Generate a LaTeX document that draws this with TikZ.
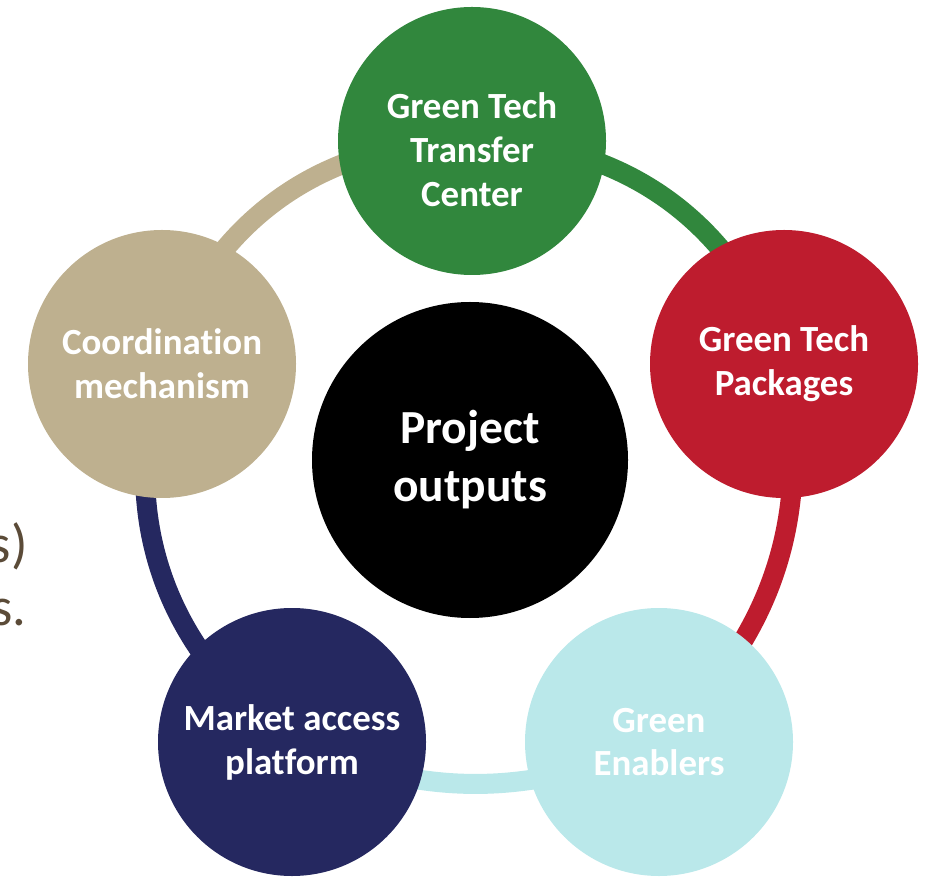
\documentclass[tikz,border=0pt]{standalone}
\usepackage{fontspec}
\setmainfont{Carlito}[Ligatures=NoCommon]
\usepackage{xcolor}
\usepackage{tikz}
\usetikzlibrary{backgrounds}

\definecolor{transfergreen}{HTML}{31873D}
\definecolor{packagered}{HTML}{BE1C2E}
\definecolor{enablerblue}{HTML}{BAE8EA}
\definecolor{marketnavy}{HTML}{252860}
\definecolor{coordbeige}{HTML}{BEB08F}
\definecolor{fragbrown}{HTML}{5B4B38}

\begin{document}
\begin{tikzpicture}[
  output/.style={circle, inner sep=0pt, minimum size=5.36cm, text=white, align=center, font=\fontsize{21pt}{25pt}\bfseries\selectfont},
  hub/.style={output, minimum size=6.32cm, font=\fontsize{27pt}{33pt}\bfseries\selectfont},
  link/.style={line width=0.4cm, bend left=36},
  fragment/.style={anchor=base east, inner sep=0pt, text=fragbrown, font=\fontsize{31pt}{37pt}\selectfont}
]%
\useasboundingbox (0,0) rectangle (18.6,17.52);%
\node[fragment] (frag1) at (0.56, 6.28) {s)};%
\node[fragment] (frag2) at (0.54, 5.02) {s.};%
\node[hub, fill=black] (outputs) at (9.40, 8.32) {Project\\outputs};%
\node[output, fill=transfergreen] (transfer) at (9.44, 14.70) {\rule{0pt}{0.86cm}Green Tech\\Transfer\\Center};%
\node[output, fill=packagered] (packages) at (15.68, 10.24) {Green Tech\\Packages};%
\node[output, fill=enablerblue] (enablers) at (13.18, 2.68) {Green\\Enablers};%
\node[output, fill=marketnavy] (market) at (5.84, 2.68) {Market access\\platform};%
\node[output, fill=coordbeige] (coord) at (3.24, 10.24) {Coordination\\mechanism};%
% ring links, behind the circles
\begin{scope}[on background layer]
\draw[link, draw=coordbeige] (coord.center) to (transfer.center);%
\draw[link, draw=transfergreen] (transfer.center) to (packages.center);%
\draw[link, draw=packagered, bend left=29] (packages.center) to (enablers.center);%
\draw[link, draw=enablerblue, bend left=23] (enablers.center) to (market.center);%
\draw[link, draw=marketnavy] (market.center) to (coord.center);%
\end{scope}
\end{tikzpicture}
\end{document}
